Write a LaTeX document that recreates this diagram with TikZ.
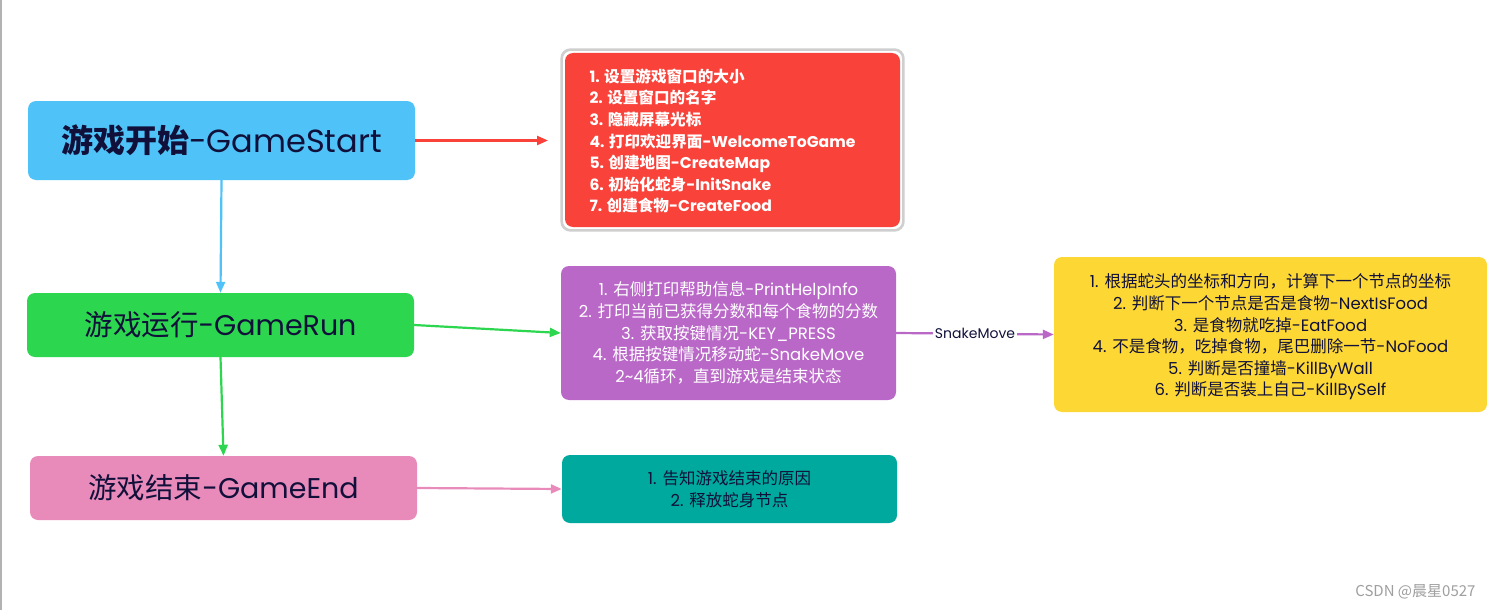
\documentclass[tikz,border=0pt]{standalone}
\usepackage{fontspec}
\setmainfont{Poppins}
\newfontfamily\cjk{Noto Sans CJK SC}
\newcommand\C[1]{{\cjk #1}}
\usetikzlibrary{arrows.meta,fit}
\definecolor{cblue}{HTML}{4FC3F7}
\definecolor{cgreen}{HTML}{2DD64F}
\definecolor{cpink}{HTML}{E98BBA}
\definecolor{cred}{HTML}{F9423A}
\definecolor{cpurple}{HTML}{BA68C8}
\definecolor{cyellow}{HTML}{FDD835}
\definecolor{cteal}{HTML}{00A99D}
\definecolor{cnavy}{HTML}{10103A}
\definecolor{cgrayb}{HTML}{CFCFCF}
\tikzset{
  box/.style={rounded corners=8pt, inner sep=0pt},
  mainbox/.style={box, minimum width=387pt, text=cnavy},
  subbox/.style={box, minimum width=335pt},
  small/.style={font=\fontsize{16.5}{21.6}\selectfont},
  conn/.style={line width=2.2pt, -{Triangle[length=11pt,width=9pt]}},
}
\begin{document}
\begin{tikzpicture}[x=1pt,y=-1pt]
\useasboundingbox (0,0) rectangle (1492,610);
\fill[white] (0,0) rectangle (1492,610);
\fill[gray!60] (0,0) rectangle (2,610);

% main boxes
\node[mainbox, fill=cblue, minimum height=79pt, font=\fontsize{32}{36}\selectfont] (start) at (221.5,140.5)
  {{\bfseries\C{游戏开始}}-GameStart};
\node[mainbox, fill=cgreen, minimum height=64pt, font=\fontsize{28.5}{32}\selectfont] (run) at (220.5,325)
  {\C{游戏运行}-GameRun};
\node[mainbox, fill=cpink, minimum height=64pt, font=\fontsize{28.5}{32}\selectfont] (end) at (223.5,488)
  {\C{游戏结束}-GameEnd};

% red box
\node[subbox, fill=cred, minimum height=174pt] (red) at (732.5,140) {};
\node[fit=(red), inner sep=3.2pt, draw=cgrayb, line width=2.6pt, rounded corners=9pt] (redframe) {};
\node[anchor=west, align=left, text=white, font=\bfseries\fontsize{15.6}{21.6}\selectfont] (redtxt) at (586,141)
  {1. \C{设置游戏窗口的大小}\\
   2. \C{设置窗口的名字}\\
   3. \C{隐藏屏幕光标}\\
   4. \C{打印欢迎界面}-WelcomeToGame\\
   5. \C{创建地图}-CreateMap\\
   6. \C{初始化蛇身}-InitSnake\\
   7. \C{创建食物}-CreateFood};

% purple box
\node[subbox, fill=cpurple, minimum height=134pt, small, align=center, text=white] (purple) at (728.5,333)
  {1. \C{右侧打印帮助信息}-PrintHelpInfo\\
   2. \C{打印当前已获得分数和每个食物的分数}\\
   3. \C{获取按键情况}-KEY\_PRESS\\
   4. \C{根据按键情况移动蛇}-SnakeMove\\
   2\textasciitilde4\C{循环，直到游戏是结束状态}};

% yellow box
\node[box, fill=cyellow, minimum width=433pt, minimum height=155pt, small, align=center, text=cnavy] (yellow) at (1270.5,334.5) {};
\node[small, align=center, text=cnavy] (ytxt) at (1270.5,337)
  {1. \C{根据蛇头的坐标和方向，计算下一个节点的坐标}\\
   2. \C{判断下一个节点是否是食物}-NextIsFood\\
   3. \C{是食物就吃掉}-EatFood\\
   4. \C{不是食物，吃掉食物，尾巴删除一节}-NoFood\\
   5. \C{判断是否撞墙}-KillByWall\\
   6. \C{判断是否装上自己}-KillBySelf};

% teal box
\node[subbox, fill=cteal, minimum height=68pt, small, align=center, text=cnavy] (teal) at (729.5,489)
  {1. \C{告知游戏结束的原因}\\
   2. \C{释放蛇身节点}};

% connectors
\coordinate (redend) at (548,140.5);
\draw[conn, draw=cred, fill=cred] (start.east) -- (redend);
\draw[conn, draw=cblue, fill=cblue] (start.south) -- (run.north);
\draw[conn, draw=cgreen, fill=cgreen] (run.east) -- (purple.west);
\draw[conn, draw=cgreen, fill=cgreen] (run.south) -- (end.north);
\draw[conn, draw=cpink, fill=cpink] (end.east) -- (teal.west);
\draw[conn, draw=cpurple, fill=cpurple] (purple.east) -- node[fill=white, text=cnavy, inner sep=2pt, font=\fontsize{14}{16}\selectfont] (lbl) {SnakeMove} (yellow.west);

% watermark
\node[anchor=east, text=gray!75, font=\cjk\fontsize{15}{17}\selectfont] (wm) at (1479,592) {CSDN @晨星0527};
\end{tikzpicture}
\end{document}
